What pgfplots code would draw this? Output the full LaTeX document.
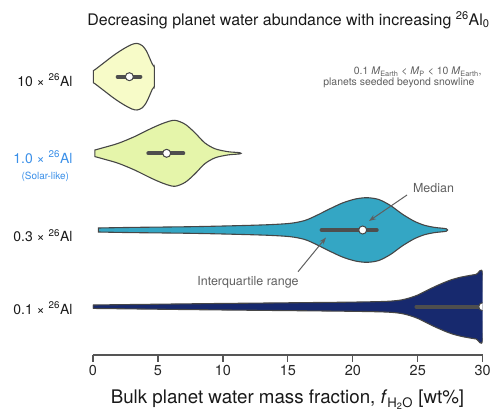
\documentclass[border=0pt]{standalone}
\usepackage{fontspec}
\setmainfont{TeX Gyre Heros}
\usepackage{pgfplots}
\pgfplotsset{compat=1.18}
\usepackage{pgfplotstable}
\usetikzlibrary{arrows.meta}

\definecolor{vA}{RGB}{247,251,200}
\definecolor{vB}{RGB}{229,245,170}
\definecolor{vC}{RGB}{52,166,196}
\definecolor{vD}{RGB}{23,41,110}
\definecolor{vline}{RGB}{70,70,70}
\definecolor{boxc}{RGB}{78,78,78}
\definecolor{axc}{RGB}{85,85,85}
\definecolor{anc}{RGB}{95,95,95}
\definecolor{solblue}{RGB}{58,143,232}

% violin outlines: x = water mass fraction, h = signed half-width (px);
% upper edge left->right, then lower edge right->left
\pgfplotstableread{
x h
0.02 6
0.2 7.5
0.5 10.5
1.0 15.5
1.5 20.5
2.0 25
2.5 29
3.0 32.3
3.4 33.3
3.8 31
4.1 26
4.35 19
4.55 13
4.68 10.5
4.72 9.5
4.72 -9.5
4.68 -10.5
4.55 -13
4.35 -19
4.1 -26
3.8 -31
3.4 -33.3
3.0 -32.3
2.5 -29
2.0 -25
1.5 -20.5
1.0 -15.5
0.5 -10.5
0.2 -7.5
0.02 -6
}\tabA
\pgfplotstableread{
x h
0.15 3.3
0.9 6
1.95 10
3.2 16.7
4.5 25
5.5 30.5
6.3 33
7.1 29
7.85 20.5
8.6 10.5
9.4 4.5
10.4 1.6
11.3 0.6
11.3 -0.6
10.4 -1.6
9.4 -4.5
8.6 -10.5
7.85 -20.5
7.1 -29
6.3 -33
5.5 -30.5
4.5 -25
3.2 -16.7
1.95 -10
0.9 -6
0.15 -3.3
}\tabB
\pgfplotstableread{
x h
0.41 2
3.0 2.6
7.5 3.3
11.0 4.3
13.5 5.3
15.2 6.7
16.3 9.5
17.2 14.5
18.2 21
19.2 27
20.2 31
21.1 32.3
22.0 30.5
22.9 24.5
23.8 16
24.7 9
25.5 4.8
26.3 2.6
27.2 1.2
27.2 -1.2
26.3 -2.6
25.5 -4.8
24.7 -9
23.8 -16
22.9 -24.5
22.0 -30.5
21.1 -32.3
20.2 -31
19.2 -27
18.2 -21
17.2 -14.5
16.3 -9.5
15.2 -6.7
13.5 -5.3
11.0 -4.3
7.5 -3.3
3.0 -2.6
0.41 -2
}\tabC
\pgfplotstableread{
x h
0.0 1.7
5 2.5
9.6 3.2
15 3.9
20 4.6
22.5 5.3
23.5 6.3
24.0 7.5
24.5 9.3
25.0 11.7
25.6 15.5
26.3 20
27.0 24
27.6 27
28.3 29.5
28.9 31
29.5 32.3
30.0 32.7
30.0 -32.7
29.5 -32.3
28.9 -31
28.3 -29.5
27.6 -27
27.0 -24
26.3 -20
25.6 -15.5
25.0 -11.7
24.5 -9.3
24.0 -7.5
23.5 -6.3
22.5 -5.3
20 -4.6
15 -3.9
9.6 -3.2
5 -2.5
0.0 -1.7
}\tabD

\begin{document}
\begin{tikzpicture}[x=1bp,y=1bp]
\useasboundingbox (-93,-56) rectangle (400,355);
\begin{axis}[
  at={(0,0)}, anchor=south west,
  scale only axis, width=389.7bp, height=320bp,
  xmin=0, xmax=30, ymin=-355, ymax=-35,
  axis x line*=bottom, hide y axis,
  axis line style={-, color=axc, line width=1.3bp},
  xtick={0,5,...,30}, tick align=outside, major tick length=6.5bp,
  tick style={color=axc, line width=1.2bp},
  ytick=\empty,
  /pgf/number format/assume math mode=true,
  xticklabel style={font=\fontsize{14.5}{16}\selectfont, text=black!85},
  clip marker paths=true,
]
\addplot[fill=vA, draw=vline, line width=1.1bp, smooth, tension=0.5] table[x=x, y expr={-76.7+\thisrow{h}}] {\tabA} -- cycle;
\addplot[fill=vB, draw=vline, line width=1.1bp, smooth, tension=0.5] table[x=x, y expr={-153.3+\thisrow{h}}] {\tabB} -- cycle;
\addplot[fill=vC, draw=vline, line width=1.1bp, smooth, tension=0.5] table[x=x, y expr={-230+\thisrow{h}}] {\tabC} -- cycle;
\addplot[fill=vD, draw=vline, line width=1.1bp, smooth, tension=0.5] table[x=x, y expr={-306.7+\thisrow{h}}] {\tabD} -- cycle;
% interquartile ranges
\addplot[line width=4bp, color=boxc, line cap=round] coordinates {(1.9,-76.7) (3.65,-76.7)};
\addplot[line width=4bp, color=boxc, line cap=round] coordinates {(4.26,-153.3) (6.95,-153.3)};
\addplot[line width=4bp, color=boxc, line cap=round] coordinates {(17.6,-230) (21.84,-230)};
\addplot[line width=4bp, color=boxc, line cap=round] coordinates {(24.9,-306.7) (30,-306.7)};
% medians
\addplot[only marks, mark=*, mark size=4bp, mark options={fill=white, draw=vline, line width=1bp}]
  coordinates {(2.8,-76.7) (5.67,-153.3) (20.76,-230) (30,-306.7)};
\end{axis}

% title
\node[font=\fontsize{16}{18}\selectfont, text=black!90] at (195.5,335) {Decreasing planet water abundance with increasing \textsuperscript{26}Al\textsubscript{0}};
% row labels
\node[anchor=base east, font=\fontsize{14}{16}\selectfont, text=black!90] at (-17,269) {10 × \textsuperscript{26}Al};
\node[anchor=base east, font=\fontsize{14}{16}\selectfont, text=solblue] at (-17,192) {1.0 × \textsuperscript{26}Al};
\node[font=\fontsize{10}{12}\selectfont, text=solblue] at (-47.7,178.3) {(Solar-like)};
\node[anchor=base east, font=\fontsize{14}{16}\selectfont, text=black!90] at (-17,113.5) {0.3 × \textsuperscript{26}Al};
\node[anchor=base east, font=\fontsize{14}{16}\selectfont, text=black!90] at (-17,41) {0.1 × \textsuperscript{26}Al};
% note
\node[anchor=base east, font=\fontsize{10.5}{12}\selectfont, text=anc] at (392,280.5) {0.1 \textit{M}\textsubscript{Earth} < \textit{M}\textsubscript{P} < 10 \textit{M}\textsubscript{Earth},};
\node[anchor=base east, font=\fontsize{10.5}{12}\selectfont, text=anc] at (385,269.5) {planets seeded beyond snowline};
% annotations
\node[font=\fontsize{12.5}{14}\selectfont, text=anc] at (340.5,167) {Median};
\draw[anc, line width=1bp, -{Stealth[length=7bp,width=5bp]}] (314,160) -- (276,134);
\node[font=\fontsize{12.5}{14}\selectfont, text=anc] at (155,73) {Interquartile range};
\draw[anc, line width=1bp, -{Stealth[length=7bp,width=5bp]}] (205,83.3) -- (233,117.5);
% x label
\node[anchor=base, font=\fontsize{18.8}{20}\selectfont, text=black!90] at (194.5,-48.5) {Bulk planet water mass fraction, \textit{f}\textsubscript{H\textsubscript{2}O} [wt\%]};
\end{tikzpicture}
\end{document}
